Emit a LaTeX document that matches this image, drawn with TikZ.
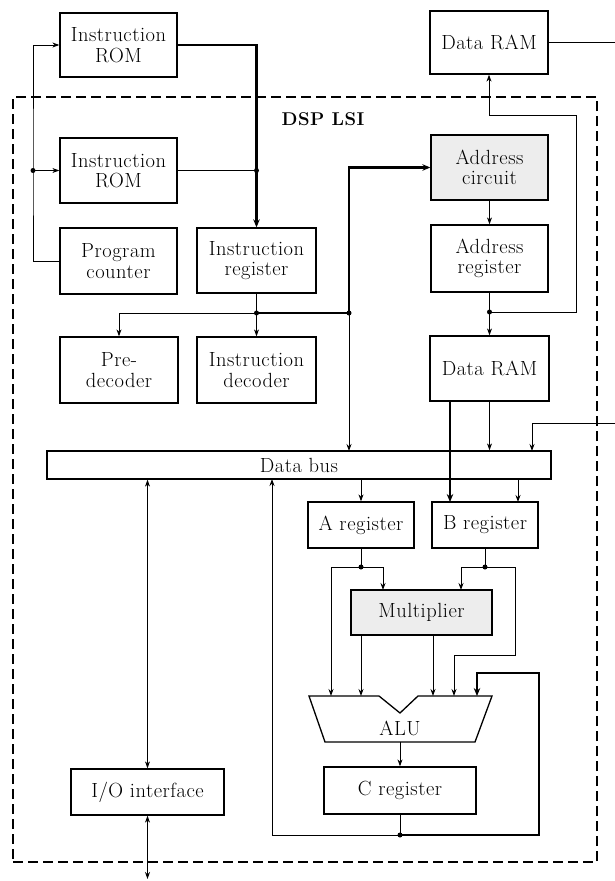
\documentclass[tikz,border=0pt]{standalone}
\usepackage{fontspec}
\setmainfont{Latin Modern Roman}[LetterSpace=2.5]
\usetikzlibrary{arrows.meta}
\begin{document}
\begin{tikzpicture}[x=1pt,y=-1pt,
  box/.style={draw, line width=1.3pt, inner sep=0pt, align=center},
  graybox/.style={box, fill=black!7},
  conn/.style={line width=0.9pt},
  heavy/.style={line width=2.2pt},
  arr/.style={-{Stealth[length=7pt,width=5pt]}},
  harr/.style={-{Stealth[length=8pt,width=6.5pt]}},
  birr/.style={{Stealth[length=7pt,width=5pt]}-{Stealth[length=7pt,width=5pt]}},
  dot/.style={circle, fill, inner sep=0pt, minimum size=5pt},
  font=\fontsize{20.5}{20.5}\selectfont]
\useasboundingbox (0,0) rectangle (615,881);

% LSI border
\node[draw, dash pattern=on 10pt off 5pt, line width=1.3pt, minimum width=584pt, minimum height=765pt, inner sep=0pt] (lsi) at (305,479.5) {};
\node[font=\fontsize{18.5}{20}\selectfont\bfseries] (lbl) at (323,119) {DSP LSI};

% boxes
\node[box, minimum width=117pt, minimum height=64pt] (rom1) at (118.5,45) {Instruction\\ROM};
\node[box, minimum width=118pt, minimum height=63pt] (ram1) at (489,42.5) {Data RAM};
\node[box, minimum width=117pt, minimum height=65pt] (rom2) at (118.5,170.5) {Instruction\\ROM};
\node[box, minimum width=117pt, minimum height=66pt] (pc) at (118.5,261) {Program\\counter};
\node[box, minimum width=119pt, minimum height=65pt] (ir) at (256.5,260.5) {Instruction\\register};
\node[box, minimum width=118pt, minimum height=66pt] (pre) at (119,370) {Pre-\\decoder};
\node[box, minimum width=119pt, minimum height=66pt] (idec) at (256.5,370) {Instruction\\decoder};
\node[graybox, minimum width=117pt, minimum height=65pt] (addrc) at (489.5,167.5) {Address\\circuit};
\node[box, minimum width=117pt, minimum height=67pt] (addrr) at (489.5,258.5) {Address\\register};
\node[box, minimum width=119pt, minimum height=65pt] (ram2) at (489.5,368.5) {Data RAM};
\node[box, minimum width=504pt, minimum height=28pt] (bus) at (299,465) {Data bus};
\node[box, minimum width=106pt, minimum height=46pt] (areg) at (361,525) {A register};
\node[box, minimum width=106pt, minimum height=46pt] (breg) at (485,525) {B register};
\node[graybox, minimum width=141pt, minimum height=45pt] (mult) at (421.5,612.5) {Multiplier};
\node[box, minimum width=152pt, minimum height=47pt] (creg) at (400,790.5) {C register};
\node[box, minimum width=153pt, minimum height=46pt] (io) at (147.5,792) {I/O interface};

% ALU
\draw[line width=1.3pt] (309,696) -- (379,696) -- (400,713) -- (418,696) -- (492,696)
  -- (475,742) -- (325,742) -- cycle;
\node (alu) at (400,728) {ALU};
\coordinate (alu1) at (331,696);
\coordinate (alu2) at (361,696);
\coordinate (alu3) at (433,696);
\coordinate (alu4) at (454,696);
\coordinate (alu5) at (477,696);
\coordinate (alub) at (400,742);

% helper coordinates
\coordinate (exR1) at (615,42.5);
\coordinate (exR2) at (615,423);
\coordinate (exB) at (147.5,879);
\coordinate (jL) at (33,170.5);
\coordinate (jT) at (256.5,170.5);
\coordinate (jIR) at (256.5,313);
\coordinate (jA) at (349,313);
\coordinate (jR) at (489.5,312);
\coordinate (rt) at (576,115);
\coordinate (busA) at (349,451);
\coordinate (busR) at (532,451);
\coordinate (ramB) at (450,401);
\coordinate (bregT) at (450,502);
\coordinate (busBA) at (361,479);
\coordinate (busBB) at (518,479);
\coordinate (bregTB) at (518,502);
\coordinate (jAr) at (361,567);
\coordinate (jBr) at (485,567);
\coordinate (m1) at (383,590);
\coordinate (m2) at (461,590);
\coordinate (mb1) at (361,635);
\coordinate (mb2) at (433,635);
\coordinate (bk) at (515,655);
\coordinate (jC) at (400,835);
\coordinate (fb) at (539,673);
\coordinate (busF) at (272,479);

% instruction fetch
\draw[heavy, harr] (rom1.east) -| (ir.north);
\draw[conn] (rom2.east) -- (jT);
\node[dot] at (jT) {};
\draw[conn, arr] (pc.west) -| (jL) |- (rom1.west);
\draw[conn, arr] (jL) -- (rom2.west);
\node[dot] at (jL) {};

% decode
\draw[conn] (ir.south) -- (jIR);
\draw[conn, arr] (jIR) -- (idec.north);
\draw[conn, arr] (jIR) -| (pre.north);
\draw[heavy] (jIR) -- (jA);
\draw[heavy, harr] (jA) |- (addrc.west);
\draw[conn, arr] (jA) -- (busA);
\node[dot] at (jIR) {};
\node[dot] at (jA) {};

% address path
\draw[conn, arr] (addrc.south) -- (addrr.north);
\draw[conn] (addrr.south) -- (jR);
\draw[conn, arr] (jR) -- (ram2.north);
\draw[conn, arr] (jR) -| (rt) -| (ram1.south);
\node[dot] at (jR) {};
\draw[conn] (ram1.east) -- (exR1);

% data RAM to bus / B
\draw[heavy, harr] (ramB) -- (bregT);
\draw[conn, arr] (ram2.south) -- (bus.north -| ram2.south);
\draw[conn, arr] (exR2) -| (busR);

% bus to registers
\draw[conn, arr] (busBA) -- (areg.north);
\draw[conn, arr] (busBB) -- (bregTB);

% registers to multiplier / ALU
\draw[conn] (areg.south) -- (jAr);
\draw[conn, arr] (jAr) -| (alu1);
\draw[conn, arr] (jAr) -| (m1);
\node[dot] at (jAr) {};
\draw[conn] (breg.south) -- (jBr);
\draw[conn, arr] (jBr) -| (m2);
\draw[conn, arr] (jBr) -| (bk) -| (alu4);
\node[dot] at (jBr) {};
\draw[conn, arr] (mb1) -- (alu2);
\draw[conn, arr] (mb2) -- (alu3);

% ALU to C register and feedback
\draw[conn, arr] (alub) -- (creg.north);
\draw[conn] (creg.south) -- (jC);
\draw[conn, arr] (jC) -| (busF);
\draw[heavy, harr] (jC) -| (fb) -| (alu5);
\node[dot] at (jC) {};

% I/O
\draw[conn, birr] (bus.south -| io.north) -- (io.north);
\draw[conn, birr] (io.south) -- (exB);
\end{tikzpicture}
\end{document}
